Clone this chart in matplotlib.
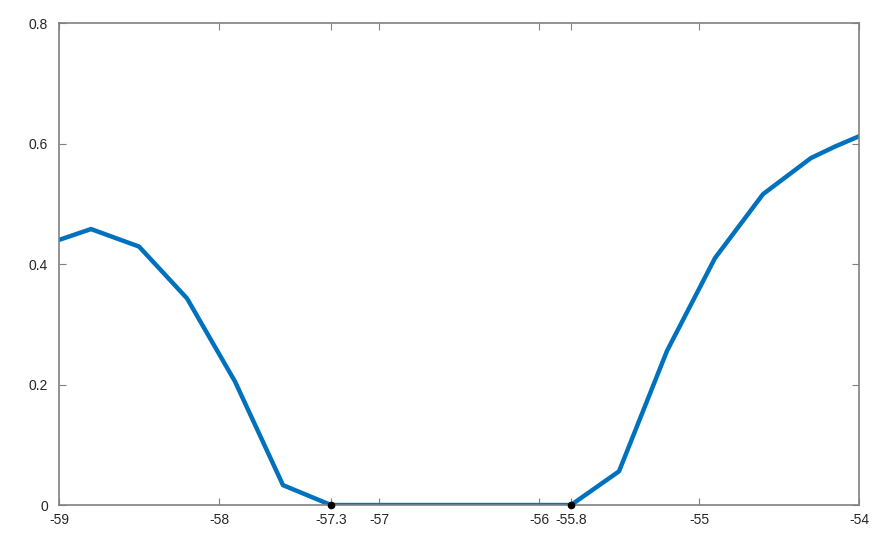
import numpy as np
import matplotlib.pyplot as plt

plt.rcParams['font.family'] = ['Liberation Sans', 'DejaVu Sans']

# curve values
x_vals = [-59.0, -58.8, -58.5, -58.2, -57.9, -57.6, -57.3, -57.0, -56.5, -56.0, -55.8,
          -55.5, -55.2, -54.9, -54.6, -54.3, -54.15, -54.0]
y_vals = [0.440, 0.458, 0.429, 0.343, 0.205, 0.033, 0.0, 0.0, 0.0, 0.0, 0.0,
          0.056, 0.256, 0.410, 0.516, 0.576, 0.595, 0.612]

# marked end points of the flat part
mark_x = [-57.3, -55.8]
mark_y = [0.0, 0.0]

xticks = [-59, -58, -57.3, -57, -56, -55.8, -55, -54]
xlabels = ['-59', '-58', '-57.3', '-57', '-56', '-55.8', '-55', '-54']
yticks = [0, 0.2, 0.4, 0.6, 0.8]
ylabels = ['0', '0.2', '0.4', '0.6', '0.8']

fig = plt.figure(figsize=(8.87, 5.35), dpi=100)
ax = fig.add_axes([0.0665, 0.056, 0.902, 0.901])

ax.plot(x_vals, y_vals, color='#0072BD', linewidth=3.2, zorder=2)
ax.plot(mark_x, mark_y, 'o', color='black', markersize=4.5, zorder=3, clip_on=False)

ax.set_xlim(-59, -54)
ax.set_ylim(0, 0.8)
ax.set_xticks(xticks)
ax.set_xticklabels(xlabels)
ax.set_yticks(yticks)
ax.set_yticklabels(ylabels)

for s in ax.spines.values():
    s.set_color('#808080')
    s.set_linewidth(1.2)
ax.tick_params(direction='in', top=True, right=True, length=5, color='#808080',
               labelsize=10, labelcolor='#262626')
ax.tick_params(axis='x', pad=6)
ax.tick_params(axis='y', pad=8)

fig.savefig('out.png', dpi=100)
